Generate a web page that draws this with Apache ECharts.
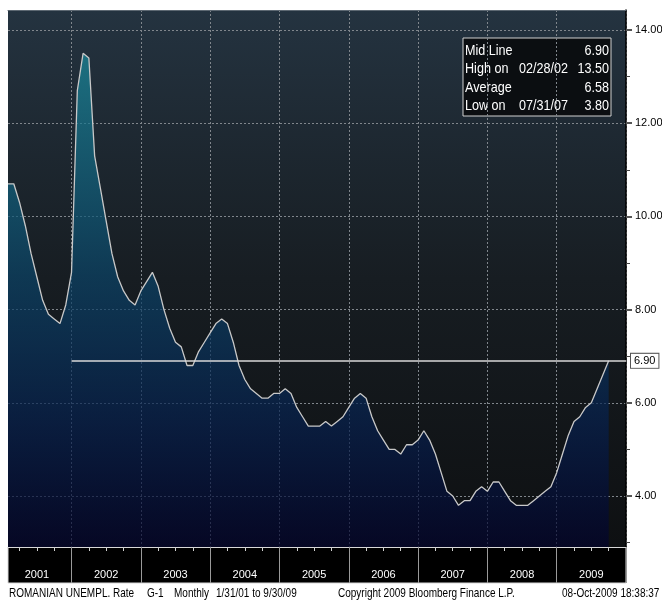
<!DOCTYPE html>
<html>
<head>
<meta charset="utf-8">
<script src="https://cdn.jsdelivr.net/npm/echarts@6.0.0/dist/echarts.min.js"></script>
<style>
  html, body { margin: 0; padding: 0; background: #fff; }
  #chart { width: 662px; height: 601px; }
</style>
</head>
<body>
<div id="chart"></div>
<script>
// Romanian unemployment rate, monthly, Jan 2001 .. Sep 2009
var yearLabels = ['2001','2002','2003','2004','2005','2006','2007','2008','2009'];
var rate = [
  10.7,10.7,10.3,9.8,9.2,8.7,8.2,7.9,7.8,7.7,8.1,8.8,
  12.7,13.5,13.4,11.3,10.6,9.9,9.2,8.7,8.4,8.2,8.1,8.4,
  8.6,8.8,8.5,8.0,7.6,7.3,7.2,6.8,6.8,7.1,7.3,7.5,
  7.7,7.8,7.7,7.3,6.8,6.5,6.3,6.2,6.1,6.1,6.2,6.2,
  6.3,6.2,5.9,5.7,5.5,5.5,5.5,5.6,5.5,5.6,5.7,5.9,
  6.1,6.2,6.1,5.7,5.4,5.2,5.0,5.0,4.9,5.1,5.1,5.2,
  5.4,5.2,4.9,4.5,4.1,4.0,3.8,3.9,3.9,4.1,4.2,4.1,
  4.3,4.3,4.1,3.9,3.8,3.8,3.8,3.9,4.0,4.1,4.2,4.5,
  4.9,5.3,5.6,5.7,5.9,6.0,6.3,6.6,6.9
];
var majorTicks = [4, 6, 8, 10, 12, 14];
var minorTicks = [3, 5, 7, 9, 11, 13];
var midLine = 6.90;
var statNames = ['Mid Line', 'High on', 'Average', 'Low on'];
var statDates = ['', '02/28/02', '', '07/31/07'];
var statValues = ['6.90', '13.50', '6.58', '3.80'];

// month categories, axis runs to Dec 2009
var months = [];
yearLabels.forEach(function(y){
    for (var m = 1; m <= 12; m++) months.push(y + '-' + (m < 10 ? '0' + m : m));
});

var FONT = '"Liberation Sans Narrow", "Liberation Sans", Arial, sans-serif';

var myChart = echarts.init(document.getElementById('chart'));

// narrow-looking text (no condensed font installed, so squeeze it)
function txt(s, x, y, size, color, align, sx){
    return {
        type: 'text', x: x, y: y, scaleX: sx, scaleY: 1,
        style: {text: s, fill: color, font: size + 'px ' + FONT, textAlign: align || 'left', textVerticalAlign: 'middle'}
    };
}

// legend box rows
var boxItems = [{
    type: 'rect',
    shape: {x: 463, y: 38, width: 148, height: 78},
    style: {fill: '#0b0e11', stroke: '#d0d0d0', lineWidth: 1}
}];
statNames.forEach(function(name, i){
    var y = 51 + i * 18.2;
    boxItems.push(txt(name, 465, y, 15, '#fff', 'left', 0.84));
    if (statDates[i]) boxItems.push(txt(statDates[i], 519, y, 15, '#fff', 'left', 0.84));
    boxItems.push(txt(statValues[i], 609, y, 15, '#fff', 'right', 0.84));
});

var footer = [
    txt('ROMANIAN UNEMPL. Rate', 9, 593, 13, '#000', 'left', 0.77),
    txt('G-1', 147, 593, 13, '#000', 'left', 0.77),
    txt('Monthly', 174, 593, 13, '#000', 'left', 0.77),
    txt('1/31/01 to 9/30/09', 216, 593, 13, '#000', 'left', 0.77),
    txt('Copyright 2009 Bloomberg Finance L.P.', 338, 593, 13, '#000', 'left', 0.77),
    txt('08-Oct-2009 18:38:37', 562, 593, 13, '#000', 'left', 0.77)
];

var option = {
    backgroundColor: '#fff',
    animation: false,
    grid: {
        left: 8, right: 36, top: 10, bottom: 54,
        outerBoundsMode: 'none',
        containLabel: false,
        show: true,
        borderWidth: 0,
        backgroundColor: new echarts.graphic.LinearGradient(0, 0, 0, 1, [
            {offset: 0, color: '#243340'},
            {offset: 0.5, color: '#171d22'},
            {offset: 1, color: '#0e1012'}
        ])
    },
    graphic: [
        // black year band under the plot
        {type: 'rect', z: -1, shape: {x: 8, y: 547, width: 618, height: 36}, style: {fill: '#000', stroke: '#d8d8d8', lineWidth: 1}},
        {type: 'group', z: 100, children: boxItems}
    ].concat(footer),
    xAxis: [{
        type: 'category',
        data: months,
        boundaryGap: false,
        position: 'bottom',
        axisLine: {show: true, lineStyle: {color: '#d8d8d8', width: 1}},
        axisTick: {
            show: true, length: 4,
            interval: function(i){ var m = i % 12; return m === 2 || m === 5 || m === 8; },
            lineStyle: {color: '#d0d0d0'}
        },
        axisLabel: {
            interval: function(i){ return i % 12 === 5; },
            formatter: function(v){ return v.slice(0, 4); },
            color: '#fff', fontSize: 11, fontFamily: FONT, margin: 22
        },
        splitLine: {
            show: true,
            interval: function(i){ return i % 12 === 11; },
            lineStyle: {color: '#80868c', type: [2, 2], width: 1}
        }
    }, {
        // year separators in the band
        type: 'category',
        data: months,
        boundaryGap: false,
        position: 'bottom',
        offset: 0,
        axisLine: {show: false},
        axisTick: {
            show: true, length: 36,
            interval: function(i){ return i % 12 === 11; },
            lineStyle: {color: '#9a9a9a'}
        },
        axisLabel: {show: false},
        splitLine: {show: false}
    }, {
        // top edge
        type: 'category',
        data: months,
        boundaryGap: false,
        position: 'top',
        axisLine: {show: true, lineStyle: {color: '#5d6872', width: 1}},
        axisTick: {show: false},
        axisLabel: {show: false}
    }],
    yAxis: [{
        type: 'value',
        position: 'right',
        min: 2.905,
        max: 14.43,
        axisLine: {show: true, lineStyle: {color: '#000', width: 1.5}},
        axisTick: {show: true, length: 6, customValues: majorTicks, lineStyle: {color: '#555', width: 2}},
        axisLabel: {
            customValues: majorTicks,
            formatter: function(v){ return v.toFixed(2); },
            color: '#000', fontSize: 11, fontFamily: FONT, margin: 9
        },
        splitLine: {show: true, lineStyle: {color: '#80868c', type: [2, 2], width: 1}}
    }, {
        type: 'value',
        position: 'right',
        offset: 0,
        min: 2.905,
        max: 14.43,
        axisLine: {show: false},
        axisTick: {show: true, length: 4, customValues: minorTicks, lineStyle: {color: '#444'}},
        axisLabel: {show: false},
        splitLine: {show: false}
    }],
    series: [{
        name: 'ROMANIAN UNEMPL. Rate',
        type: 'line',
        data: rate,
        symbol: 'none',
        lineStyle: {color: '#c8c8c8', width: 1.3},
        areaStyle: {
            origin: 'start',
            color: new echarts.graphic.LinearGradient(0, 0, 0, 1, [
                {offset: 0, color: '#1a8c9e'},
                {offset: 0.45, color: '#0b4468'},
                {offset: 0.75, color: '#06204e'},
                {offset: 1, color: '#02032c'}
            ])
        },
        markLine: {
            silent: true,
            symbol: 'none',
            lineStyle: {color: '#d9d9d9', width: 1.5, type: 'solid'},
            label: {
                show: true,
                position: 'end',
                distance: 5,
                formatter: function(){ return midLine.toFixed(2); },
                color: '#000', fontSize: 11, fontFamily: FONT,
                backgroundColor: '#fff', borderColor: '#555', borderWidth: 1,
                padding: [2, 3, 1, 3]
            },
            data: [[
                {coord: [months[11], midLine]},
                {coord: [months[months.length - 1], midLine]}
            ]]
        }
    }]
};
myChart.setOption(option);
</script>
</body>
</html>
